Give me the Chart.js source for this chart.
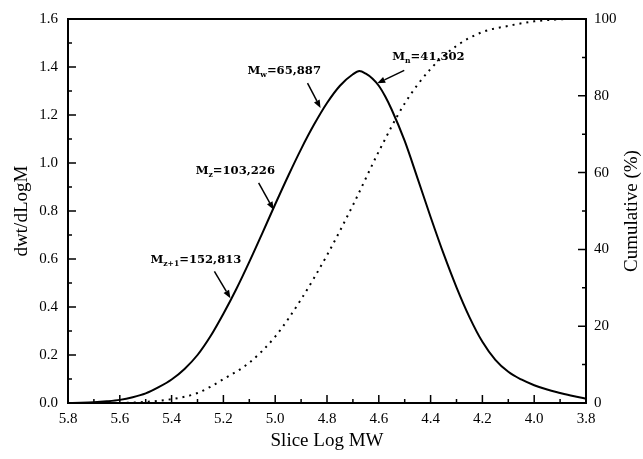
<!DOCTYPE html>
<html>
<head>
<meta charset="utf-8">
<script src="https://cdn.jsdelivr.net/npm/chart.js@4.4.1/dist/chart.umd.min.js"></script>
<style>
  html, body { margin: 0; padding: 0; background: #fff; }
  #grafico { display: block; }
</style>
</head>
<body>
<canvas id="grafico" width="643" height="459"></canvas>
<script>
// curva de distribuicao (eixo esquerdo)
const LOG_MW = [5.8, 5.75, 5.7, 5.65, 5.6, 5.55, 5.5, 5.45, 5.4, 5.35, 5.3, 5.25, 5.2, 5.15, 5.1, 5.05, 5.0, 4.95, 4.9, 4.85, 4.8, 4.75, 4.7, 4.675, 4.65, 4.625, 4.6, 4.575, 4.55, 4.5, 4.45, 4.4, 4.35, 4.3, 4.25, 4.2, 4.15, 4.1, 4.05, 4.0, 3.95, 3.9, 3.85, 3.8];
const DWT = [0.000, 0.001, 0.003, 0.007, 0.013, 0.024, 0.040, 0.066, 0.098, 0.142, 0.200, 0.278, 0.372, 0.475, 0.588, 0.707, 0.828, 0.946, 1.058, 1.160, 1.250, 1.322, 1.370, 1.383, 1.372, 1.352, 1.322, 1.277, 1.222, 1.092, 0.935, 0.775, 0.622, 0.482, 0.358, 0.255, 0.180, 0.130, 0.098, 0.074, 0.056, 0.042, 0.029, 0.018];

// cumulativa (eixo direito)
const CUM_LOG_MW = [5.6, 5.5, 5.4, 5.3, 5.2, 5.1, 5.0, 4.9, 4.8, 4.7, 4.6, 4.5, 4.4, 4.3, 4.2, 4.1, 4.0, 3.9, 3.85, 3.8];
const CUMULATIVE = [0.0, 0.3, 1.0, 2.6, 6.2, 10.5, 17.3, 27, 38.5, 51.5, 65.5, 78, 87, 93, 96.6, 98.2, 99.4, 99.9, 100, 100];

// ticks
const X_TICKS = [5.8, 5.6, 5.4, 5.2, 5.0, 4.8, 4.6, 4.4, 4.2, 4.0, 3.8];
const X_MINOR = [5.7, 5.5, 5.3, 5.1, 4.9, 4.7, 4.5, 4.3, 4.1, 3.9];
const Y_TICKS = [0, 0.2, 0.4, 0.6, 0.8, 1.0, 1.2, 1.4, 1.6];
const Y_MINOR = [0.1, 0.3, 0.5, 0.7, 0.9, 1.1, 1.3, 1.5];
const Y1_TICKS = [0, 20, 40, 60, 80, 100];
const Y1_MINOR = [10, 30, 50, 70, 90];

// medias de massa molar: nome, indice, valor, ponto da curva
const MOM_NOME = ['M', 'M', 'M', 'M'];
const MOM_SUB = ['w', 'n', 'z', 'z+1'];
const MOM_VALOR = ['=65,887', '=41,302', '=103,226', '=152,813'];
const MOM_X = [4.825, 4.606, 5.006, 5.173];
const MOM_Y = [1.229, 1.332, 0.805, 0.436];

// deslocamentos (px) do texto e do inicio da seta em relacao a ponta
const MOM_TEXTO_DX = [-73, 15, -78, -80];
const MOM_TEXTO_DY = [-39, -28, -41, -40];
const MOM_SETA_DX = [-13, 27, -15, -16];
const MOM_SETA_DY = [-25, -13, -27, -27];

const SERIF = '"Liberation Serif", "Times New Roman", serif';
const NOTA = '"DejaVu Serif", serif';

const moldura = {
  id: 'moldura',
  afterDraw(chart) {
    const ctx = chart.ctx;
    const a = chart.chartArea;
    const sx = chart.scales.x, sy = chart.scales.y, sy1 = chart.scales.y1;
    ctx.save();
    ctx.strokeStyle = '#000';
    ctx.lineWidth = 2;
    ctx.strokeRect(a.left, a.top, a.right - a.left, a.bottom - a.top);

    ctx.lineWidth = 1.5;
    ctx.beginPath();
    X_TICKS.forEach(v => { const p = sx.getPixelForValue(v); ctx.moveTo(p, a.bottom); ctx.lineTo(p, a.bottom - 8); });
    X_MINOR.forEach(v => { const p = sx.getPixelForValue(v); ctx.moveTo(p, a.bottom); ctx.lineTo(p, a.bottom - 4); });
    Y_TICKS.forEach(v => { const p = sy.getPixelForValue(v); ctx.moveTo(a.left, p); ctx.lineTo(a.left + 8, p); });
    Y_MINOR.forEach(v => { const p = sy.getPixelForValue(v); ctx.moveTo(a.left, p); ctx.lineTo(a.left + 4, p); });
    Y1_TICKS.forEach(v => { const p = sy1.getPixelForValue(v); ctx.moveTo(a.right, p); ctx.lineTo(a.right - 8, p); });
    Y1_MINOR.forEach(v => { const p = sy1.getPixelForValue(v); ctx.moveTo(a.right, p); ctx.lineTo(a.right - 4, p); });
    ctx.stroke();

    // titulo do eixo direito, lido de baixo para cima
    ctx.translate(632, (a.top + a.bottom) / 2);
    ctx.rotate(-Math.PI / 2);
    ctx.font = '19px ' + SERIF;
    ctx.fillStyle = '#000';
    ctx.textAlign = 'center';
    ctx.textBaseline = 'middle';
    ctx.fillText('Cumulative (%)', 0, 0);
    ctx.restore();

    // anotacoes com setas
    ctx.save();
    ctx.fillStyle = '#000';
    ctx.strokeStyle = '#000';
    for (let i = 0; i < MOM_NOME.length; i++) {
      const tx = sx.getPixelForValue(MOM_X[i]);
      const ty = sy.getPixelForValue(MOM_Y[i]);
      const bx = tx + MOM_SETA_DX[i], by = ty + MOM_SETA_DY[i];
      const ang = Math.atan2(ty - by, tx - bx);
      const hl = 8, hw = 3.2;
      const hx = tx - hl * Math.cos(ang), hy = ty - hl * Math.sin(ang);
      ctx.lineWidth = 1.5;
      ctx.beginPath();
      ctx.moveTo(bx, by);
      ctx.lineTo(hx, hy);
      ctx.stroke();
      ctx.beginPath();
      ctx.moveTo(tx, ty);
      ctx.lineTo(hx + hw * Math.sin(ang), hy - hw * Math.cos(ang));
      ctx.lineTo(hx - hw * Math.sin(ang), hy + hw * Math.cos(ang));
      ctx.closePath();
      ctx.fill();

      let x = tx + MOM_TEXTO_DX[i];
      const y = ty + MOM_TEXTO_DY[i];
      ctx.textAlign = 'left';
      ctx.textBaseline = 'alphabetic';
      ctx.font = 'bold 11.6px ' + NOTA;
      ctx.fillText(MOM_NOME[i], x, y + 5);
      x += ctx.measureText(MOM_NOME[i]).width;
      ctx.font = 'bold 7.6px ' + NOTA;
      ctx.fillText(MOM_SUB[i], x, y + 8);
      x += ctx.measureText(MOM_SUB[i]).width;
      ctx.font = 'bold 11.6px ' + NOTA;
      ctx.fillText(MOM_VALOR[i], x, y + 5);
    }
    ctx.restore();
  }
};

const pontos = (xs, ys) => xs.map((v, i) => ({ x: v, y: ys[i] }));

new Chart(document.getElementById('grafico'), {
  type: 'line',
  data: {
    datasets: [{
      label: 'dwt/dLogM',
      data: pontos(LOG_MW, DWT),
      yAxisID: 'y',
      borderColor: '#000',
      borderWidth: 2,
      pointRadius: 0,
      cubicInterpolationMode: 'monotone'
    }, {
      label: 'Cumulative',
      data: pontos(CUM_LOG_MW, CUMULATIVE),
      yAxisID: 'y1',
      borderColor: '#000',
      borderWidth: 2,
      borderDash: [2, 5],
      pointRadius: 0,
      cubicInterpolationMode: 'monotone'
    }]
  },
  options: {
    responsive: false,
    animation: false,
    devicePixelRatio: 1,
    layout: { padding: { top: 15, left: 0, right: 0, bottom: 0 } },
    plugins: { legend: { display: false }, tooltip: { enabled: false } },
    scales: {
      x: {
        type: 'linear',
        reverse: true,
        min: 3.8,
        max: 5.8,
        afterBuildTicks: s => { s.ticks = X_TICKS.map(v => ({ value: v })); },
        afterFit: s => { s.height = 56; },
        grid: { display: false, drawTicks: false },
        border: { display: false },
        ticks: { color: '#000', padding: 7, maxRotation: 0, font: { family: SERIF, size: 15 }, callback: v => Number(v).toFixed(1) },
        title: { display: true, text: 'Slice Log MW', color: '#000', font: { family: SERIF, size: 19 }, padding: { top: 0, bottom: 7 } }
      },
      y: {
        position: 'left',
        min: 0,
        max: 1.6,
        afterBuildTicks: s => { s.ticks = Y_TICKS.map(v => ({ value: v })); },
        afterFit: s => { s.width = 68; },
        grid: { display: false, drawTicks: false },
        border: { display: false },
        ticks: { color: '#000', padding: 10, font: { family: SERIF, size: 15 }, callback: v => Number(v).toFixed(1) },
        title: { display: true, text: 'dwt/dLogM', color: '#000', font: { family: SERIF, size: 19 }, padding: { top: 11, bottom: 0 } }
      },
      y1: {
        position: 'right',
        min: 0,
        max: 100,
        afterBuildTicks: s => { s.ticks = Y1_TICKS.map(v => ({ value: v })); },
        afterFit: s => { s.width = 57; },
        grid: { display: false, drawTicks: false },
        border: { display: false },
        ticks: { color: '#000', padding: 8, font: { family: SERIF, size: 15 } }
      }
    }
  },
  plugins: [moldura]
});
</script>
</body>
</html>
